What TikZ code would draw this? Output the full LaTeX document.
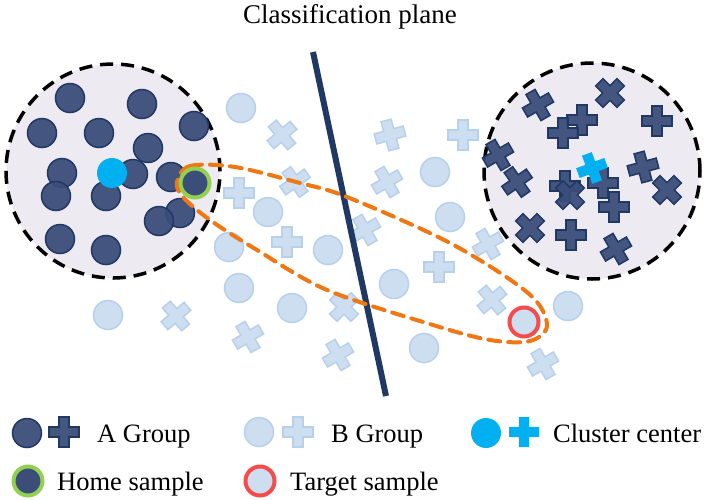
\documentclass[tikz,border=0pt]{standalone}
\usepackage{fontspec}
\setmainfont{Liberation Serif}
\newfontfamily\serifL{Liberation Serif}
\definecolor{darkFill}{RGB}{59,78,122}
\definecolor{darkEdge}{RGB}{31,56,100}
\definecolor{lightFill}{RGB}{204,222,240}
\definecolor{lightEdge}{RGB}{183,208,235}
\definecolor{cyanC}{RGB}{0,176,240}
\definecolor{greenC}{RGB}{146,208,80}
\definecolor{redC}{RGB}{245,75,75}
\definecolor{orangeC}{RGB}{240,120,20}
\definecolor{planeC}{RGB}{32,56,100}
\definecolor{clusterFill}{RGB}{237,234,242}
\tikzset{
  dotA/.style={circle, inner sep=0pt, minimum size=29pt, fill=darkFill, draw=darkEdge, line width=1.5pt, fill opacity=0.95},
  dotB/.style={circle, inner sep=0pt, minimum size=29pt, fill=lightFill, draw=lightEdge, line width=1.5pt},
  dotC/.style={circle, inner sep=0pt, minimum size=30pt, fill=cyanC},
  homering/.style={circle, inner sep=0pt, minimum size=29pt, fill=darkFill, draw=greenC, line width=4pt},
  targetring/.style={circle, inner sep=0pt, minimum size=29pt, fill=lightFill, draw=redC, line width=4pt},
  crossA/.style={fill=darkFill, draw=darkEdge, line width=1.5pt, fill opacity=0.95},
  crossB/.style={fill=lightFill, draw=lightEdge, line width=1.5pt},
  crossC/.style={fill=cyanC},
  clusterbox/.style={fill=clusterFill, draw=black, line width=3.5pt, dash pattern=on 13pt off 8pt},
  planeline/.style={draw=planeC, line width=6pt},
  loopline/.style={draw=orangeC, line width=4pt, dash pattern=on 12pt off 8pt, line cap=round},
  lbl/.style={font=\serifL\fontsize{26.5}{30}\selectfont, inner sep=0pt, anchor=base west}
}
\newcommand{\crs}[4]{\path[#1, shift={(#3,#4)}, rotate=#2] (-5.2,-15) -- (5.2,-15) -- (5.2,-5.2) -- (15,-5.2) -- (15,5.2) -- (5.2,5.2) -- (5.2,15) -- (-5.2,15) -- (-5.2,5.2) -- (-15,5.2) -- (-15,-5.2) -- (-5.2,-5.2) -- cycle;}
\begin{document}
\begin{tikzpicture}[x=1pt, y=-1pt]
\useasboundingbox (0,0) rectangle (705,499);

% title
\node[font=\serifL\fontsize{27}{32}\selectfont, inner sep=0pt, anchor=base] (title) at (350,23) {Classification plane};

% B group (light) scattered items
\foreach \i/\x/\y in {1/241/108, 2/435/172, 3/268/212, 4/450/217, 5/229/247, 6/328/250, 7/394/284, 8/239/288, 9/292/308, 10/424/348, 11/108/315, 12/568/306}
  \node[dotB] (b\i) at (\x,\y) {};
\crs{crossB}{40}{282}{135}
\crs{crossB}{15}{390}{135}
\crs{crossB}{0}{463}{135}
\crs{crossB}{35}{295}{182}
\crs{crossB}{30}{387}{182}
\crs{crossB}{0}{239}{193}
\crs{crossB}{0}{287}{242}
\crs{crossB}{30}{365}{230}
\crs{crossB}{30}{488}{244}
\crs{crossB}{0}{439}{267}
\crs{crossB}{45}{344}{307}
\crs{crossB}{40}{492}{300}
\crs{crossB}{30}{248}{337}
\crs{crossB}{30}{338}{355}
\crs{crossB}{40}{176}{316}
\crs{crossB}{30}{543}{364}

% classification plane
\coordinate (ptop) at (313,52);
\coordinate (pbot) at (386,396);
\draw[planeline] (ptop) -- (pbot);

% clusters
\draw[clusterbox] (113,171) circle[radius=107pt];
\draw[clusterbox] (592,171) circle[radius=108pt];

% A group left cluster
\foreach \i/\x/\y in {1/70/98, 2/142/104, 3/42/133, 4/99/133, 5/194/126, 6/148/148, 7/62/173, 8/133/174, 9/171/177, 10/56/196, 11/106/196, 12/180/213, 13/159/221, 14/60/239, 15/106/250}
  \node[dotA] (a\i) at (\x,\y) {};
\node[dotC] (ca) at (112,173) {};

% A group right cluster
\crs{crossA}{30}{538}{105}
\crs{crossA}{45}{610}{93}
\crs{crossA}{0}{582}{120}
\crs{crossA}{0}{563}{133}
\crs{crossA}{0}{657}{121}
\crs{crossA}{30}{498}{155}
\crs{crossA}{35}{517}{182}
\crs{crossA}{0}{565}{186}
\crs{crossA}{45}{570}{195}
\crs{crossA}{0}{603}{183}
\crs{crossA}{15}{643}{167}
\crs{crossA}{45}{667}{190}
\crs{crossA}{0}{614}{207}
\crs{crossA}{45}{530}{228}
\crs{crossA}{0}{571}{235}
\crs{crossA}{30}{616}{249}
\crs{crossC}{20}{592}{168}

% orange loop
\draw[loopline] plot[smooth cycle, tension=0.55] coordinates {(177,182) (190,166) (235,167) (300,183) (347,197) (450,243) (528,293) (547,325) (530,341) (490,340) (433,325) (327,290) (257,250) (210,220) (183,197)};

% home and target samples
\node[homering] (home) at (195,183) {};
\node[targetring] (target) at (524,322) {};

% legend
\node[dotA] (lgA) at (27,433) {};
\crs{crossA}{0}{64}{432}
\node[lbl] (tA) at (97,442) {A Group};
\node[dotB] (lgB) at (259,432) {};
\crs{crossB}{0}{298}{432}
\node[lbl] (tB) at (331,442) {B Group};
\node[dotC] (lgC) at (486,433) {};
\crs{crossC}{0}{524}{432}
\node[lbl] (tC) at (553,442) {Cluster center};
\node[homering] (lgH) at (28,481) {};
\node[lbl] (tH) at (57,490) {Home sample};
\node[targetring] (lgT) at (260,481) {};
\node[lbl] (tT) at (290,490) {Target sample};
\end{tikzpicture}
\end{document}
